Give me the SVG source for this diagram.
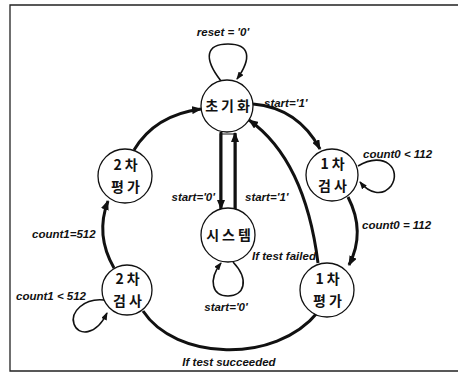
<svg xmlns="http://www.w3.org/2000/svg" width="458" height="373" viewBox="0 0 458 373">
<style>
.node circle{fill:#fff;stroke:#111;stroke-width:1.3}
.nt{font-family:"Noto Sans CJK KR","Noto Sans",sans-serif;font-weight:bold;font-size:14px;fill:#111;text-anchor:middle;letter-spacing:3px}
.thick{fill:none;stroke:#111;stroke-width:3}
.thin{fill:none;stroke:#111;stroke-width:1.6}
.lbl{font-family:"Liberation Sans",Arial,sans-serif;font-weight:bold;font-style:italic;font-size:11.5px;fill:#111}
</style>
<defs>
<marker id="ah" markerWidth="10" markerHeight="8" refX="9" refY="4" orient="auto" markerUnits="userSpaceOnUse"><path d="M0,0 L10,4 L0,8 z" fill="#111"/></marker>
<marker id="as" markerWidth="8" markerHeight="6" refX="7" refY="3" orient="auto" markerUnits="userSpaceOnUse"><path d="M0,0 L8,3 L0,6 z" fill="#111"/></marker>
</defs>
<rect x="0" y="0" width="458" height="373" fill="#fff"/>
<g id="frame" fill="none" stroke="#222" stroke-width="1.3">
<path d="M458,5 L10,5 L10,371 L458,371"/>
</g>
<g id="connectors">
<path class="thin" d="M221,81 C203,58 206,44 228,44 C250,44 252,58 237,79" marker-end="url(#as)"/>
<path class="thick" d="M253,104 Q298,108 320,149" marker-end="url(#ah)"/>
<path class="thin" d="M358,166 C385,150 402,170 391,186 C382,197 369,193 360,182" marker-end="url(#as)"/>
<path class="thick" d="M348,197 Q366,232 349,265" marker-end="url(#ah)"/>
<path class="thick" d="M318,263 Q305,160 249,120" marker-end="url(#ah)"/>
<path class="thick" d="M318,312 C275,365 175,360 143,311"/>
<path class="thin" d="M104,300 C84,298 70,312 74,324 C78,336 96,336 107,313" marker-end="url(#as)"/>
<path class="thick" d="M114,268 Q95,235 108,201" marker-end="url(#ah)"/>
<path class="thick" d="M134,150 Q155,115 201,109" marker-end="url(#ah)"/>
<rect x="220" y="134" width="16" height="75" fill="none" stroke="#111" stroke-width="1"/>
<path class="thick" d="M221,132 L221,209" marker-end="url(#ah)"/>
<path class="thick" d="M235,210 L235,133" marker-end="url(#ah)"/>
<path class="thin" d="M233,262 C250,280 244,296 228,296 C212,296 208,280 221,263" marker-end="url(#as)"/>
</g>
<g id="labels">
<text class="lbl" x="223" y="36" text-anchor="middle">reset = '0'</text>
<text class="lbl" x="264" y="107">start='1'</text>
<text class="lbl" x="363" y="158">count0 &lt; 112</text>
<text class="lbl" x="362" y="229">count0 = 112</text>
<text class="lbl" x="215" y="201" text-anchor="end">start='0'</text>
<text class="lbl" x="245" y="201">start='1'</text>
<text class="lbl" x="252" y="260">If test failed</text>
<text class="lbl" x="226" y="311" text-anchor="middle">start='0'</text>
<text class="lbl" x="32" y="238">count1=512</text>
<text class="lbl" x="16" y="300">count1 &lt; 512</text>
<text class="lbl" x="229" y="366" text-anchor="middle">If test succeeded</text>
</g>
<g id="n-init" class="node"><circle cx="227" cy="106" r="26"/><text class="nt" x="229" y="111">초기화</text></g>
<g id="n-eval2" class="node"><circle cx="125" cy="176" r="27"/><text class="nt" x="127" y="170">2차</text><text class="nt" x="127" y="192">평가</text></g>
<g id="n-check1" class="node"><circle cx="332" cy="175" r="26"/><text class="nt" x="334" y="169">1차</text><text class="nt" x="334" y="191">검사</text></g>
<g id="n-system" class="node"><circle cx="228" cy="235" r="27"/><text class="nt" x="230" y="240">시스템</text></g>
<g id="n-check2" class="node"><circle cx="127" cy="290" r="25"/><text class="nt" x="129" y="284">2차</text><text class="nt" x="129" y="306">검사</text></g>
<g id="n-eval1" class="node"><circle cx="327" cy="290" r="27"/><text class="nt" x="329" y="284">1차</text><text class="nt" x="329" y="306">평가</text></g>
</svg>
